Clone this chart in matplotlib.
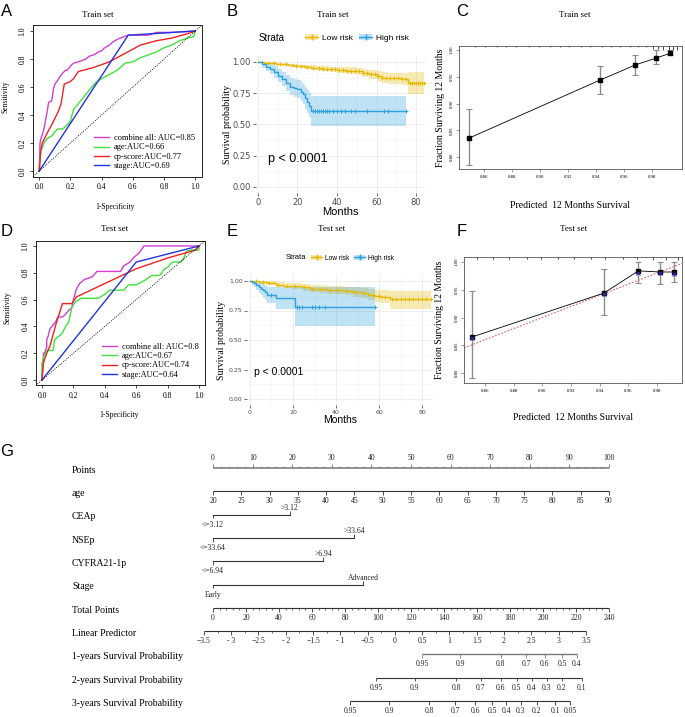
import matplotlib
matplotlib.use("Agg")
import matplotlib.pyplot as plt
import numpy as np
from matplotlib.patches import Patch
from matplotlib.lines import Line2D

SERIF = "Liberation Serif"
SANS = "Liberation Sans"

# ---------------- ROC data ----------------
roc_colors = ["#D23FD2", "#3DE33D", "#EE2222", "#2233DD"]
train_roc_labels = ["combine all: AUC=0.85", "age:AUC=0.66", "cp-score:AUC=0.77", "stage:AUC=0.69"]
test_roc_labels = ["combine all: AUC=0.8", "age:AUC=0.67", "cp-score:AUC=0.74", "stage:AUC=0.64"]

train_combine_fpr = [0, 0.005, 0.01, 0.02, 0.03, 0.04, 0.05, 0.06, 0.08, 0.09, 0.10, 0.12, 0.13, 0.15, 0.17, 0.18,
                     0.20, 0.22, 0.25, 0.30, 0.32, 0.35, 0.38, 0.40, 0.42, 0.45, 0.47, 0.50, 0.52, 0.57, 0.70, 0.75,
                     0.85, 1.0]
train_combine_tpr = [0, 0.20, 0.23, 0.26, 0.30, 0.36, 0.42, 0.49, 0.50, 0.58, 0.62, 0.65, 0.67, 0.70, 0.72, 0.72,
                     0.75, 0.77, 0.78, 0.80, 0.82, 0.83, 0.85, 0.86, 0.88, 0.90, 0.92, 0.94, 0.95, 0.97, 0.97, 0.99,
                     0.99, 1.0]
train_age_fpr = [0, 0.01, 0.03, 0.05, 0.08, 0.10, 0.12, 0.15, 0.18, 0.20, 0.22, 0.25, 0.28, 0.30, 0.33, 0.36, 0.40,
                 0.45, 0.50, 0.55, 0.60, 0.65, 0.70, 0.75, 0.80, 0.85, 0.90, 0.95, 0.99, 1.0]
train_age_tpr = [0, 0.14, 0.20, 0.23, 0.25, 0.28, 0.30, 0.30, 0.33, 0.36, 0.44, 0.48, 0.52, 0.55, 0.59, 0.63, 0.66,
                 0.69, 0.72, 0.77, 0.78, 0.81, 0.83, 0.85, 0.88, 0.90, 0.93, 0.95, 0.96, 1.0]
train_cp_fpr = [0, 0.01, 0.02, 0.05, 0.08, 0.12, 0.14, 0.16, 0.20, 0.22, 0.25, 0.35, 0.45, 0.55, 0.65, 0.75, 0.85,
                0.95, 1.0]
train_cp_tpr = [0, 0.15, 0.20, 0.27, 0.33, 0.42, 0.48, 0.62, 0.64, 0.66, 0.71, 0.74, 0.78, 0.84, 0.90, 0.93, 0.95,
                0.98, 1.0]
train_stage_fpr = [0, 0.57, 1.0]
train_stage_tpr = [0, 0.97, 1.0]

test_combine_fpr = [0, 0.01, 0.02, 0.03, 0.03, 0.04, 0.05, 0.07, 0.09, 0.10, 0.13, 0.15, 0.17, 0.19, 0.20, 0.21,
                    0.22, 0.24, 0.27, 0.32, 0.35, 0.50, 0.52, 0.56, 0.59, 0.62, 0.65, 1.0]
test_combine_tpr = [0, 0.20, 0.21, 0.25, 0.30, 0.33, 0.38, 0.41, 0.44, 0.47, 0.47, 0.49, 0.52, 0.54, 0.60, 0.64,
                    0.68, 0.72, 0.75, 0.77, 0.81, 0.81, 0.85, 0.88, 0.92, 0.95, 1.0, 1.0]
test_age_fpr = [0, 0.0, 0.01, 0.03, 0.07, 0.08, 0.10, 0.13, 0.15, 0.17, 0.19, 0.21, 0.25, 0.36, 0.40, 0.43, 0.52,
                0.55, 0.60, 0.65, 0.70, 0.75, 0.78, 0.80, 0.83, 0.88, 0.90, 0.92, 0.95, 1.0, 1.0]
test_age_tpr = [0, 0.12, 0.17, 0.22, 0.22, 0.30, 0.32, 0.35, 0.40, 0.43, 0.54, 0.58, 0.61, 0.61, 0.64, 0.67, 0.67,
                0.71, 0.71, 0.74, 0.78, 0.78, 0.83, 0.84, 0.88, 0.88, 0.90, 0.96, 0.97, 0.97, 1.0]
test_cp_fpr = [0, 0.01, 0.03, 0.05, 0.09, 0.13, 0.19, 0.22, 0.40, 0.60, 0.80, 0.98, 1.0]
test_cp_tpr = [0, 0.13, 0.20, 0.25, 0.42, 0.57, 0.57, 0.62, 0.72, 0.83, 0.91, 0.97, 1.0]
test_stage_fpr = [0, 0.60, 1.0]
test_stage_tpr = [0, 0.88, 1.0]

# ---------------- Kaplan-Meier data ----------------
low_color = "#E7B800"
high_color = "#2E9FDF"

tr_low_t = [0, 3, 6, 9, 12, 15, 18, 21, 24, 27, 30, 33, 36, 40, 45, 50, 53, 56, 60, 63, 66, 70, 73, 76]
tr_low_s = [1.0, 0.995, 0.99, 0.985, 0.98, 0.975, 0.97, 0.965, 0.96, 0.955, 0.95, 0.945, 0.94, 0.935, 0.93, 0.925,
            0.91, 0.90, 0.89, 0.875, 0.87, 0.87, 0.865, 0.83]
tr_low_lo = [1.0, 0.99, 0.983, 0.976, 0.97, 0.964, 0.957, 0.951, 0.944, 0.938, 0.93, 0.924, 0.917, 0.91, 0.902,
             0.895, 0.877, 0.864, 0.85, 0.832, 0.825, 0.822, 0.812, 0.745]
tr_low_hi = [1.0, 1.0, 0.997, 0.994, 0.99, 0.986, 0.983, 0.979, 0.976, 0.972, 0.969, 0.966, 0.962, 0.959, 0.956,
             0.953, 0.942, 0.935, 0.928, 0.918, 0.914, 0.915, 0.914, 0.918]
tr_low_end = 84
tr_low_cens = [2, 5, 8, 11, 14, 17, 19, 22, 25, 28, 31, 33, 35, 37, 39, 41, 43, 45, 47, 49, 51, 53, 55, 57, 59, 61,
               63, 65, 67, 69, 71, 73, 75, 77, 78, 79, 80, 81, 82, 83, 84]

tr_high_t = [0, 2, 4, 6, 8, 10, 12, 14, 16, 18, 20, 22, 23, 24, 25, 26, 27]
tr_high_s = [1.0, 0.98, 0.96, 0.94, 0.92, 0.89, 0.86, 0.83, 0.80, 0.79, 0.785, 0.76, 0.74, 0.71, 0.68, 0.65, 0.605]
tr_high_lo = [1.0, 0.955, 0.925, 0.90, 0.875, 0.84, 0.805, 0.77, 0.735, 0.722, 0.715, 0.685, 0.662, 0.627, 0.592,
              0.56, 0.49]
tr_high_hi = [1.0, 1.0, 0.995, 0.982, 0.967, 0.943, 0.918, 0.893, 0.868, 0.86, 0.857, 0.838, 0.822, 0.797, 0.772,
              0.748, 0.725]
tr_high_end = 75
tr_high_cens = [28, 29, 30, 31, 32, 33, 34, 35, 36, 38, 40, 42, 44, 47, 49, 55, 64, 66, 75]

te_low_t = [0, 4, 8, 12, 16, 20, 24, 28, 32, 36, 40, 44, 48, 52, 55, 58, 61, 65]
te_low_s = [1.0, 0.99, 0.98, 0.97, 0.96, 0.955, 0.945, 0.935, 0.93, 0.925, 0.925, 0.915, 0.905, 0.895, 0.885, 0.875,
            0.865, 0.845]
te_low_lo = [1.0, 0.978, 0.963, 0.95, 0.937, 0.93, 0.917, 0.905, 0.898, 0.891, 0.89, 0.878, 0.866, 0.853, 0.84,
             0.826, 0.812, 0.765]
te_low_hi = [1.0, 1.0, 0.997, 0.99, 0.983, 0.98, 0.973, 0.966, 0.963, 0.96, 0.96, 0.953, 0.946, 0.938, 0.932, 0.925,
             0.92, 0.918]
te_low_end = 84
te_low_cens = [3, 6, 9, 13, 17, 21, 25, 29, 33, 37, 41, 45, 49, 53, 57, 60, 63, 66, 68, 70, 72, 74, 76, 78, 80, 82, 84]

te_high_t = [0, 1, 2, 3, 4, 5, 6, 7, 8, 12, 21]
te_high_s = [1.0, 0.99, 0.98, 0.965, 0.95, 0.935, 0.92, 0.905, 0.885, 0.86, 0.78]
te_high_lo = [1.0, 0.97, 0.95, 0.925, 0.90, 0.88, 0.86, 0.84, 0.815, 0.76, 0.62]
te_high_hi = [1.0, 1.0, 1.0, 1.0, 0.995, 0.985, 0.975, 0.965, 0.95, 0.945, 0.95]
te_high_end = 58
te_high_cens = [10, 22, 23, 24, 29, 30, 32, 35, 58]

# ---------------- calibration data ----------------
cal_tr_pred = [0.849, 0.943, 0.968, 0.983, 0.993]
cal_tr_obs = [0.835, 0.944, 0.972, 0.985, 0.994]
cal_tr_lo = [0.785, 0.918, 0.954, 0.974, 0.990]
cal_tr_hi = [0.889, 0.970, 0.990, 1.0, 1.0]
cal_tr_rug = [0.8536, 0.8607, 0.869, 0.876, 0.883, 0.892, 0.899, 0.907, 0.914, 0.921, 0.929, 0.936, 0.944, 0.951,
              0.957, 0.964, 0.970, 0.976, 0.981, 0.984, 0.988, 0.992, 0.995, 0.998]
cal_tr_rug_h = [1, 1, 1, 1, 1, 1, 1, 1, 1, 1, 1, 1, 1, 1, 1, 1, 1, 1, 2, 2, 3, 3, 3, 3]

cal_te_pred = [0.851, 0.943, 0.967, 0.982, 0.992]
cal_te_obs = [0.865, 0.944, 0.984, 0.982, 0.982]
cal_te_corr = [0.863, 0.943, 0.980, 0.981, 0.979]
cal_te_lo = [0.791, 0.905, 0.962, 0.960, 0.964]
cal_te_hi = [0.948, 0.988, 1.0, 1.0, 1.0]
cal_te_rug = [0.8541, 0.8657, 0.877, 0.889, 0.899, 0.911, 0.922, 0.934, 0.944, 0.956, 0.966, 0.977, 0.986, 0.995]
cal_te_rug_h = [1, 1, 1, 1, 1, 1, 1, 1, 1, 1, 1, 2, 2, 2]

# ---------------- nomogram data ----------------
nomo_rows = ["Points", "age", "CEAp", "NSEp", "CYFRA21-1p", "Stage", "Total Points", "Linear Predictor",
             "1-years Survival Probability", "2-years Survival Probability", "3-years Survival Probability"]
age_range = (20, 90)                     # maps to 0..100 points
cat_vars = [  # (low label, high label, points of high level)
    ("<=3.12", ">3.12", 19.4),
    ("<=33.64", ">33.64", 35.6),
    ("<=6.94", ">6.94", 27.8),
    ("Early", "Advanced", 37.9),
]
total_max = 240
lp_range = (-3.5, 3.5)
lp_total = (-5.5, 226.0)                 # total points at the two LP ends
surv1_vals = ["0.95", "0.9", "0.8", "0.7", "0.6", "0.5", "0.4"]
surv1_tot = [126.7, 149.7, 174.5, 189.7, 201.2, 211.5, 220.6]
surv2_vals = ["0.95", "0.9", "0.8", "0.7", "0.6", "0.5", "0.4", "0.3", "0.2", "0.1"]
surv2_tot = [98.8, 122.4, 147.3, 162.4, 174.5, 184.2, 193.3, 202.4, 211.5, 223.6]
surv3_vals = ["0.95", "0.9", "0.8", "0.7", "0.6", "0.5", "0.4", "0.3", "0.2", "0.1", "0.05"]
surv3_tot = [83.0, 106.7, 130.9, 146.7, 158.8, 169.1, 177.6, 186.6, 196.3, 207.3, 216.3]

W, H = 685, 717
fig = plt.figure(figsize=(W / 100, H / 100), dpi=100)


def px_axes(x0, y0, x1, y1):
    return fig.add_axes([x0 / W, 1 - y1 / H, (x1 - x0) / W, (y1 - y0) / H])


def fig_text(x, y, s, **kw):
    fig.text(x / W, 1 - y / H, s, **kw)


# ---------------- ROC panels ----------------
def draw_roc(ax, curves, labels):
    for (fx, ty), lab, col in zip(curves, labels, roc_colors):
        ax.plot(fx, ty, color=col, lw=1.0, label=lab)
    ax.plot([-0.04, 1.04], [-0.04, 1.04], color="black", lw=0.6, ls=(0, (1.2, 1.5)))
    ax.set_xlim(-0.04, 1.04)
    ax.set_ylim(-0.04, 1.04)
    ticks = [0, 0.2, 0.4, 0.6, 0.8, 1.0]
    ax.set_xticks(ticks)
    ax.set_yticks(ticks)
    ax.set_xticklabels(["0.0", "0.2", "0.4", "0.6", "0.8", "1.0"], fontsize=5.5, family=SERIF)
    ax.set_yticklabels(["0.0", "0.2", "0.4", "0.6", "0.8", "1.0"], fontsize=5.5, family=SERIF,
                       rotation=90, va="center")
    ax.tick_params(length=2.5, width=0.5, pad=2)
    for s in ax.spines.values():
        s.set_linewidth(0.6)
    leg = ax.legend(loc="lower right", frameon=False, prop={"family": SERIF, "size": 6},
                    handlelength=1.8, labelspacing=0.15, borderaxespad=0.4, handletextpad=0.6)
    return leg


axA = px_axes(33, 25.4, 201.5, 176.6)
draw_roc(axA, [(train_combine_fpr, train_combine_tpr), (train_age_fpr, train_age_tpr),
               (train_cp_fpr, train_cp_tpr), (train_stage_fpr, train_stage_tpr)], train_roc_labels)
axD = px_axes(35.7, 240.6, 205.3, 385.4)
draw_roc(axD, [(test_combine_fpr, test_combine_tpr), (test_age_fpr, test_age_tpr),
               (test_cp_fpr, test_cp_tpr), (test_stage_fpr, test_stage_tpr)], test_roc_labels)

fig_text(98, 15, "Train set", family=SERIF, fontsize=6.5, ha="center", va="center")
fig_text(5, 97, "Sensitivity", family=SERIF, fontsize=5.5, rotation=90, ha="center", va="center")
fig_text(115, 207, "1-Specificity", family=SERIF, fontsize=5.5, ha="center", va="center")
fig_text(115, 229, "Test set", family=SERIF, fontsize=6.5, ha="center", va="center")
fig_text(7, 308, "Sensitivity", family=SERIF, fontsize=5.5, rotation=90, ha="center", va="center")
fig_text(119, 415, "1-Specificity", family=SERIF, fontsize=5.5, ha="center", va="center")


# ---------------- KM panels ----------------
def draw_km(ax, groups, tick_fs, ms):
    for t, s, lo, hi, t_end, cens, col in groups:
        tt = np.append(t, t_end)
        ss = np.append(s, s[-1])
        ax.fill_between(tt, np.append(lo, lo[-1]), np.append(hi, hi[-1]), step="post",
                        color=col, alpha=0.3, lw=0)
        ax.step(tt, ss, where="post", color=col, lw=1.0)
        cs = np.asarray(s)[np.searchsorted(t, cens, side="right") - 1]
        ax.plot(cens, cs, "+", color=col, ms=ms, mew=0.7)
    ax.set_xlim(-1.2, 85)
    ax.set_ylim(-0.05, 1.05)
    ax.set_xticks([0, 20, 40, 60, 80])
    ax.set_xticks([10, 30, 50, 70], minor=True)
    ax.set_yticks([0, 0.25, 0.5, 0.75, 1.0])
    ax.set_yticks([0.125, 0.375, 0.625, 0.875], minor=True)
    ax.set_yticklabels(["0.00", "0.25", "0.50", "0.75", "1.00"])
    ax.grid(which="major", color="#EBEBEB", lw=0.6)
    ax.grid(which="minor", color="#F4F4F4", lw=0.4)
    ax.set_axisbelow(True)
    for s in ax.spines.values():
        s.set_visible(False)
    ax.tick_params(which="major", length=2, width=0.5, color="#333333", labelsize=tick_fs,
                   labelcolor="#4D4D4D", pad=1.5)
    ax.tick_params(which="minor", length=0)


axB = px_axes(255.6, 55.75, 425.9, 193.25)
draw_km(axB, [(tr_low_t, tr_low_s, tr_low_lo, tr_low_hi, tr_low_end, tr_low_cens, low_color),
              (tr_high_t, tr_high_s, tr_high_lo, tr_high_hi, tr_high_end, tr_high_cens, high_color)], 6, 3.5)
axB.text(5, 0.2, "p < 0.0001", fontsize=9, family=SANS)
axB.set_xlabel("Months", fontsize=8, family=SANS, labelpad=0)
axB.set_ylabel("Survival probability", fontsize=7, family=SERIF, labelpad=0)

axE = px_axes(247.4, 275.1, 432.8, 404.9)
draw_km(axE, [(te_low_t, te_low_s, te_low_lo, te_low_hi, te_low_end, te_low_cens, low_color),
              (te_high_t, te_high_s, te_high_lo, te_high_hi, te_high_end, te_high_cens, high_color)], 4.5, 3)
axE.text(2, 0.2, "p < 0.0001", fontsize=7.5, family=SANS)
axE.set_xlabel("Months", fontsize=7.5, family=SANS, labelpad=0)
axE.set_ylabel("Survival probability", fontsize=7, family=SERIF, labelpad=2)


def km_legend(ax, fs, x_anchor, y_anchor):
    h_low = (Patch(color=low_color, alpha=0.3, lw=0), Line2D([], [], color=low_color, lw=1, marker="+", ms=4))
    h_high = (Patch(color=high_color, alpha=0.3, lw=0), Line2D([], [], color=high_color, lw=1, marker="+", ms=4))
    ax.legend([h_low, h_high], ["Low risk", "High risk"], ncol=2, frameon=False, loc="center left",
              bbox_to_anchor=(x_anchor, y_anchor), prop={"family": SANS, "size": fs},
              handlelength=1.6, columnspacing=0.8, handletextpad=0.4, borderaxespad=0)


km_legend(axB, 6, 0.27, 1.13)
fig_text(272, 38, "Strata", family=SANS, fontsize=7, ha="center", va="center")
fig_text(333, 15, "Train set", family=SERIF, fontsize=6.5, ha="center", va="center")
km_legend(axE, 4.8, 0.33, 1.13)
fig_text(296, 258, "Strata", family=SANS, fontsize=5.5, ha="center", va="center")
fig_text(332, 229, "Test set", family=SERIF, fontsize=6.5, ha="center", va="center")


# ---------------- calibration panels ----------------
def draw_cal(ax, pred, obs, lo, hi, rug, rug_h, xlim, ylim):
    pred = np.asarray(pred)
    obs = np.asarray(obs)
    ax.errorbar(pred, obs, yerr=[obs - np.asarray(lo), np.asarray(hi) - obs], fmt="none",
                ecolor="#8C8C8C", elinewidth=1.0, capsize=2, capthick=0.8)
    ax.plot(pred, obs, color="black", lw=0.6, marker="s", ms=2.2)
    ax.set_xlim(*xlim)
    ax.set_ylim(*ylim)
    unit = (ylim[1] - ylim[0]) * 0.012
    ax.vlines(rug, ylim[1] - np.asarray(rug_h) * unit, ylim[1], color="black", lw=0.5)
    ax.set_xticks([0.86, 0.88, 0.90, 0.92, 0.94, 0.96, 0.98])
    ax.set_yticks([0.80, 0.85, 0.90, 0.95, 1.00])
    ax.set_xticklabels(["0.86", "0.88", "0.90", "0.92", "0.94", "0.96", "0.98"], fontsize=3.5, family=SERIF)
    ax.set_yticklabels(["0.80", "0.85", "0.90", "0.95", "1.00"], fontsize=3.5, family=SERIF,
                       rotation=90, va="center")
    ax.tick_params(length=2, width=0.4, pad=2, color="#555555")
    for s in ax.spines.values():
        s.set_linewidth(0.6)
        s.set_color("#555555")


axC = px_axes(459, 46, 682, 169)
draw_cal(axC, cal_tr_pred, cal_tr_obs, cal_tr_lo, cal_tr_hi, cal_tr_rug, cal_tr_rug_h,
         (0.8421, 1.0014), (0.7776, 1.0075))
axC.set_ylabel("Fraction Surviving 12 Months", family=SERIF, fontsize=7)
axC.yaxis.set_label_coords(-0.065, 0.5)
axC.set_xlabel("Predicted  12 Months Survival", family=SERIF, fontsize=7)
axC.xaxis.set_label_coords(0.5, -0.26)
fig_text(575, 15, "Train set", family=SERIF, fontsize=6.5, ha="center", va="center")

axF = px_axes(464, 257, 682, 383)
xlimF, ylimF = (0.8453, 0.9975), (0.782, 1.009)
axF.plot(xlimF, xlimF, color="#E06060", lw=0.8, ls=(0, (1.5, 1.5)), zorder=1)
draw_cal(axF, cal_te_pred, cal_te_obs, cal_te_lo, cal_te_hi, cal_te_rug, cal_te_rug_h, xlimF, ylimF)
axF.plot(cal_te_pred, cal_te_corr, "x", color="#3333CC", ms=2.5, mew=0.7)
axF.set_ylabel("Fraction Surviving 12 Months", family=SERIF, fontsize=7)
axF.yaxis.set_label_coords(-0.09, 0.5)
axF.set_xlabel("Predicted  12 Months Survival", family=SERIF, fontsize=7)
axF.xaxis.set_label_coords(0.5, -0.24)
fig_text(574, 229, "Test set", family=SERIF, fontsize=6.5, ha="center", va="center")

# ---------------- nomogram ----------------
gax = px_axes(0, 440, 685, 717)
gx0, gscale = 213, 3.96          # px of 0 points, px per point
row0, rstep = 468, 23.3           # px of first row, px between rows
gax.set_xlim((0 - gx0) / gscale, (W - gx0) / gscale)
gax.set_ylim((717 - row0) / rstep, (440 - row0) / rstep)
gax.axis("off")

NLC = "#333333"
TICK = 0.16
LAB = 0.43
lab_kw = dict(family=SERIF, fontsize=5.5, ha="center", va="center", color="#222222")

for i, name in enumerate(nomo_rows):
    gax.text((72 - gx0) / gscale, i + 0.1, name, family=SERIF, fontsize=7, ha="left", va="center")


def scale_row(row, major_pos, major_lab, minor_pos=(), above=False, lw=0.8, color=NLC):
    sgn = -1 if above else 1
    lo_, hi_ = min(list(major_pos) + list(minor_pos)), max(list(major_pos) + list(minor_pos))
    gax.plot([lo_, hi_], [row, row], color=color, lw=lw, solid_capstyle="butt")
    gax.vlines(major_pos, row, row + sgn * TICK, color=color, lw=0.6)
    if len(minor_pos):
        gax.vlines(minor_pos, row, row + sgn * TICK * 0.6, color=color, lw=0.5)
    for p, s in zip(major_pos, major_lab):
        gax.text(p, row + sgn * LAB, s, **lab_kw)


# Points
pts_major = np.arange(0, 101, 10)
pts_minor = np.setdiff1d(np.arange(0, 101, 2), pts_major)
scale_row(0, pts_major, [str(v) for v in pts_major], pts_minor, above=True, lw=1.1, color="#777777")

# age
age_ticks = np.arange(age_range[0], age_range[1] + 1, 5)
age_pts = (age_ticks - age_range[0]) / (age_range[1] - age_range[0]) * 100
scale_row(1, age_pts, [str(v) for v in age_ticks])

# categorical
for k, (lo_lab, hi_lab, hi_pts) in enumerate(cat_vars):
    r = 2 + k
    gax.plot([0, hi_pts], [r, r], color=NLC, lw=0.8)
    gax.vlines([0], r, r + TICK, color=NLC, lw=0.6)
    gax.vlines([hi_pts], r, r - TICK, color=NLC, lw=0.6)
    gax.text(0, r + LAB, lo_lab, **lab_kw)
    gax.text(hi_pts, r - 0.3, hi_lab, **lab_kw)

# Total points
tot_major = np.arange(0, total_max + 1, 20)
tot_minor = np.setdiff1d(np.arange(0, total_max + 1, 4), tot_major)
tscale = 100 / total_max
scale_row(6, tot_major * tscale, [str(v) for v in tot_major], tot_minor * tscale)

# Linear predictor
lp_major = np.arange(lp_range[0], lp_range[1] + 0.01, 0.5)
lp_minor = np.setdiff1d(np.round(np.arange(lp_range[0], lp_range[1] + 0.01, 0.25), 2), lp_major)


def lp_to_pts(v):
    tot = lp_total[0] + (np.asarray(v) - lp_range[0]) / (lp_range[1] - lp_range[0]) * (lp_total[1] - lp_total[0])
    return tot * tscale


lp_labs = [("%g" % v).replace("-", "\u2212") if v not in (-3, -2, -1) else "- %d" % abs(v) for v in lp_major]
scale_row(7, lp_to_pts(lp_major), lp_labs, lp_to_pts(lp_minor))

# survival probabilities
scale_row(8, np.asarray(surv1_tot) * tscale, surv1_vals, color="#777777", lw=1.0)
scale_row(9, np.asarray(surv2_tot) * tscale, surv2_vals)
scale_row(10, np.asarray(surv3_tot) * tscale, surv3_vals)

# panel letters
for lab, x, y in [("A", 7, 11), ("B", 232, 12), ("C", 462, 12), ("D", 7, 231), ("E", 232, 232),
                  ("F", 462, 232), ("G", 7, 452)]:
    fig_text(x, y, lab, family=SANS, fontsize=12, ha="center", va="center")

fig.savefig("out.png", dpi=100, facecolor="white")
